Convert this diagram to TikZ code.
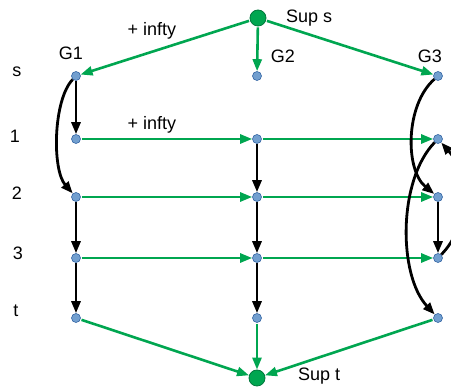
\documentclass[tikz,border=0pt]{standalone}
\usepackage{fontspec}
\setmainfont{Liberation Sans}
\usetikzlibrary{arrows.meta}
\definecolor{gr}{RGB}{0,166,80}
\definecolor{grd}{RGB}{0,120,60}
\definecolor{bl}{RGB}{114,159,207}
\definecolor{bld}{RGB}{52,101,164}
\begin{document}
\begin{tikzpicture}[x=1pt,y=-1pt,
  dot/.style={circle,fill=bl,draw=bld,line width=0.6pt,inner sep=0pt,minimum size=9pt},
  bigdot/.style={circle,fill=gr,draw=grd,line width=0.8pt,inner sep=0pt,minimum size=16pt},
  gedge/.style={draw=gr,line width=2.6pt,-{Triangle[length=12pt,width=9pt]},shorten <=1pt},
  bedge/.style={draw=black,line width=2.8pt,-{Triangle[length=12pt,width=9pt]}},
  lbl/.style={font=\fontsize{18}{21}\selectfont,inner sep=0pt}]
\useasboundingbox (0,0) rectangle (451,387);
% nodes
\node[bigdot] (sups) at (258,18) {};
\node[bigdot] (supt) at (257,378) {};
\foreach \c/\x in {a/76,b/257,c/438}{
  \node[dot] (\c s) at (\x,76) {};
  \node[dot] (\c 1) at (\x,139) {};
  \node[dot] (\c 2) at (\x,197) {};
  \node[dot] (\c 3) at (\x,258) {};
  \node[dot] (\c t) at (\x,318) {};
}
% labels
\node[lbl] (ls) at (17,72) {s};
\node[lbl] (l1) at (15,136) {1};
\node[lbl] (l2) at (17,193) {2};
\node[lbl] (l3) at (18,253) {3};
\node[lbl] (lt) at (16,311) {t};
\node[lbl] (g1) at (71,53) {G1};
\node[lbl] (g2) at (283,56) {G2};
\node[lbl] (g3) at (430,56) {G3};
\node[lbl,anchor=west] (lsups) at (286,18) {Sup s};
\node[lbl,anchor=west] (lsupt) at (298,376) {Sup t};
\node[lbl] (inf1) at (152,31) {+ infty};
\node[lbl] (inf2) at (152,125) {+ infty};
% green edges
\draw[gedge] (sups) -- (as);
\draw[gedge] (sups) -- (bs);
\draw[gedge] (sups) -- (cs);
\draw[gedge] (a1) -- (b1);
\draw[gedge] (b1) -- (c1);
\draw[gedge] (a2) -- (b2);
\draw[gedge] (b2) -- (c2);
\draw[gedge] (a3) -- (b3);
\draw[gedge] (b3) -- (c3);
\draw[gedge] (at) -- (supt);
\draw[gedge] (bt) -- (supt);
\draw[gedge] (ct) -- (supt);
% black edges
\draw[bedge] (as) -- (a1);
\draw[bedge] (a2) -- (a3);
\draw[bedge] (a3) -- (at);
\draw[bedge] (as) .. controls (53,100) and (52,170) .. (a2);
\draw[bedge] (b1) -- (b2);
\draw[bedge] (b2) -- (b3);
\draw[bedge] (b3) -- (bt);
\draw[bedge] (c2) -- (c3);
\draw[bedge] (cs) .. controls (405,105) and (405,170) .. (c2);
\draw[bedge] (c1) .. controls (398,180) and (398,275) .. (ct);
\draw[bedge] (c3) .. controls (470,225) and (470,175) .. (c1);
\end{tikzpicture}
\end{document}
